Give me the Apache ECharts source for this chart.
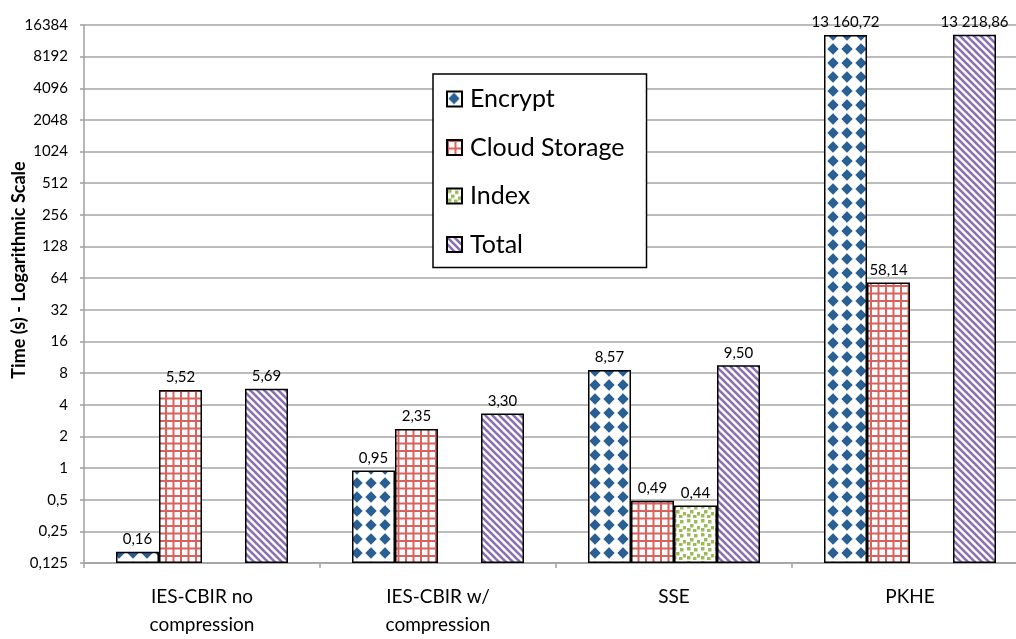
<!DOCTYPE html>
<html>
<head>
<meta charset="utf-8">
<script src="https://cdn.jsdelivr.net/npm/echarts@6/dist/echarts.min.js"></script>
<style>
html,body{margin:0;padding:0;background:#fff;overflow:hidden;width:1016px;height:639px;}
#chart{width:1028px;height:639px;}
</style>
</head>
<body>
<div id="chart"></div>
<script>
const categories = ['IES-CBIR no\ncompression', 'IES-CBIR w/\ncompression', 'SSE', 'PKHE'];
const seriesNames = ['Encrypt', 'Cloud Storage', 'Index', 'Total'];
const encrypt = [0.16, 0.95, 8.57, 13160.72];
const cloudStorage = [5.52, 2.35, 0.49, 58.14];
const indexTime = [null, null, 0.44, null];
const total = [5.69, 3.30, 9.50, 13218.86];
const yTicks = [0.125, 0.25, 0.5, 1, 2, 4, 8, 16, 32, 64, 128, 256, 512, 1024, 2048, 4096, 8192, 16384];

// logarithmic (base 2) value axis: positions are log2(value) measured from the lowest tick
const LOG_MIN = Math.log2(yTicks[0]);
const LOG_MAX = Math.log2(yTicks[yTicks.length - 1]);
const toLog = v => (v == null ? null : Math.log2(v) - LOG_MIN);

function makeCanvas(w, h, draw) {
  const c = document.createElement('canvas');
  c.width = w; c.height = h;
  const ctx = c.getContext('2d');
  ctx.fillStyle = '#ffffff';
  ctx.fillRect(0, 0, w, h);
  draw(ctx);
  return c;
}
const encryptPat = makeCanvas(14, 14, ctx => {
  ctx.fillStyle = '#2a5f94';
  ctx.beginPath();
  ctx.moveTo(7, 1.3); ctx.lineTo(12.7, 7); ctx.lineTo(7, 12.7); ctx.lineTo(1.3, 7); ctx.closePath();
  ctx.fill();
});
const cloudPat = makeCanvas(15, 15, ctx => {
  ctx.fillStyle = '#d9625f';
  ctx.fillRect(0, 0, 2, 15); ctx.fillRect(7.5, 0, 2, 15);
  ctx.fillRect(0, 0, 15, 2); ctx.fillRect(0, 7.5, 15, 2);
});
const indexPat = makeCanvas(14, 14, ctx => {
  ctx.fillStyle = '#9bbb59';
  [[1,1],[8,2],[4,6],[11,8],[1,10],[7,11]].forEach(p => ctx.fillRect(p[0], p[1], 3.5, 3.5));
});
const totalPat = makeCanvas(7, 7, ctx => {
  ctx.strokeStyle = '#8b6fb3';
  ctx.lineWidth = 2.6;
  for (let k = -1; k <= 1; k++) {
    ctx.beginPath(); ctx.moveTo(k * 7 - 1, -1); ctx.lineTo(k * 7 + 8, 8); ctx.stroke();
  }
});
const patterns = [encryptPat, cloudPat, indexPat, totalPat];
const dataSets = [encrypt, cloudStorage, indexTime, total];

function fmtLabel(v) {
  const parts = v.toFixed(2).split('.');
  const intPart = parts[0].replace(/\B(?=(\d{3})+(?!\d))/g, ' ');
  return intPart + ',' + parts[1];
}
function fmtTick(pos) {
  const idx = Math.round(pos);
  const v = yTicks[idx];
  return v == null ? '' : String(v).replace('.', ',');
}

const FONT = 'Lato, "Open Sans", sans-serif';
const chart = echarts.init(document.getElementById('chart'), null, {renderer: 'canvas'});
const option = {
  animation: false,
  backgroundColor: '#ffffff',
  grid: {left: 84, right: 0, top: 25, bottom: 74, containLabel: false},
  legend: {
    orient: 'vertical', left: 433, top: 74,
    icon: 'rect', itemWidth: 15, itemHeight: 15, itemGap: 22.5,
    padding: [12, 14, 10, 13],
    borderColor: '#000', borderWidth: 1.5, backgroundColor: '#fff',
    textStyle: {fontFamily: FONT, fontSize: 25, color: '#000', lineHeight: 26, padding: [0, 8, 0, 3]},
    data: seriesNames
  },
  xAxis: {
    type: 'category', data: categories,
    axisLine: {lineStyle: {color: '#a0a0a0', width: 1.5}},
    axisTick: {show: true, alignWithLabel: false, length: 5, lineStyle: {color: '#a0a0a0', width: 1.5}},
    axisLabel: {fontFamily: FONT, fontSize: 19, color: '#000', margin: 20, lineHeight: 28, interval: 0}
  },
  yAxis: {
    type: 'value', min: 0, max: LOG_MAX - LOG_MIN, interval: 1,
    axisLine: {show: true, lineStyle: {color: '#a0a0a0', width: 1.5}},
    axisTick: {show: true, length: 4, lineStyle: {color: '#a0a0a0', width: 1.5}},
    splitLine: {show: true, lineStyle: {color: '#a6a6a6', width: 1.5}},
    axisLabel: {fontFamily: FONT, fontSize: 15, color: '#000', margin: 16, formatter: fmtTick}
  },
  graphic: [{
    type: 'text', x: 19, y: 270, rotation: Math.PI / 2,
    style: {text: 'Time (s) - Logarithmic Scale', font: 'bold 18px Lato, sans-serif', fill: '#000',
      textAlign: 'center', textVerticalAlign: 'middle'}
  }],
  series: seriesNames.map((name, i) => ({
    name: name, type: 'bar', data: dataSets[i].map(toLog),
    barWidth: 43, barGap: '0%',
    itemStyle: {color: {image: patterns[i], repeat: 'repeat'}, borderColor: '#000', borderWidth: 1.5},
    label: {show: true, position: 'top', distance: 5, fontFamily: FONT, fontSize: 15, color: '#000',
      formatter: p => (dataSets[i][p.dataIndex] == null ? '' : fmtLabel(dataSets[i][p.dataIndex]))}
  }))
};
chart.setOption(option);
</script>
</body>
</html>
